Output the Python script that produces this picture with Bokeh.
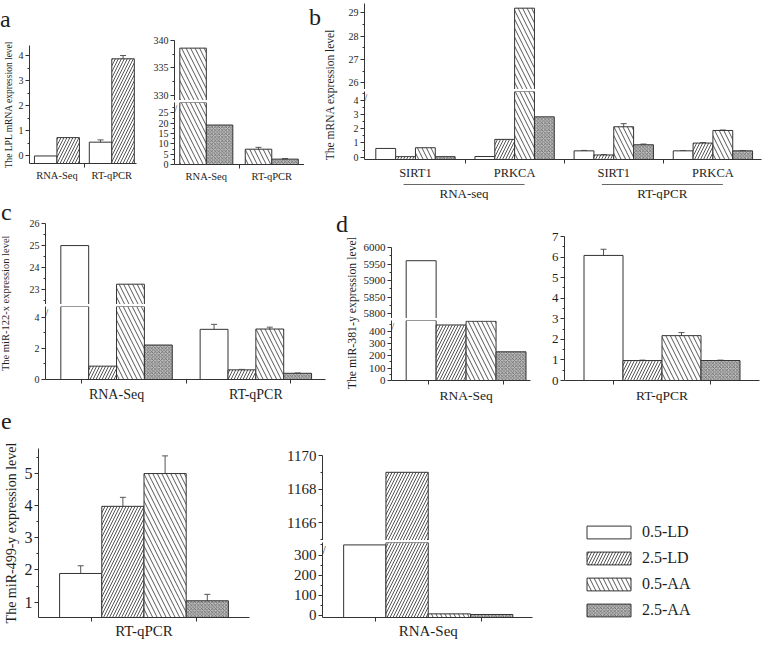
import numpy as np
from bokeh.plotting import figure
from bokeh.layouts import row, column
from bokeh.models import (ColumnDataSource, Range1d, FixedTicker, Whisker, TeeHead,
                          Legend, LegendItem, Label, Div)
from bokeh.embed import file_html
from bokeh.resources import INLINE

FONT = "Liberation Serif"
INK = "#1e1e1e"
AXC = "#333333"
ERRC = "#555555"

SERIES = ["0.5-LD", "2.5-LD", "0.5-AA", "2.5-AA"]

# ---------------- data ----------------
# panel a
a_groups = ["RNA-Seq", "RT-qPCR"]
a_ld05 = [0.0, 0.55]
a_ld05_err = [0.0, 0.09]
a_ld25 = [0.73, 3.87]
a_ld25_err = [0.0, 0.13]
a_aa05 = [338.6, 7.4]
a_aa05_err = [0.0, 0.9]
a_aa25 = [19.1, 2.6]
a_aa25_err = [0.0, 0.25]

# panel b
b_genes = ["SIRT1", "PRKCA", "SIRT1", "PRKCA"]
b_methods = ["RNA-seq", "RT-qPCR"]
b_ld05 = [0.61, 0.04, 0.44, 0.44]
b_ld05_err = [0.0, 0.0, 0.03, 0.02]
b_ld25 = [0.03, 1.25, 0.15, 0.99]
b_ld25_err = [0.0, 0.0, 0.02, 0.03]
b_aa05 = [0.66, 29.2, 2.14, 1.88]
b_aa05_err = [0.0, 0.0, 0.22, 0.03]
b_aa25 = [0.03, 2.84, 0.87, 0.44]
b_aa25_err = [0.0, 0.0, 0.05, 0.02]

# panel c
c_groups = ["RNA-Seq", "RT-qPCR"]
c_ld05 = [25.0, 3.23]
c_ld05_err = [0.0, 0.32]
c_ld25 = [0.86, 0.62]
c_ld25_err = [0.0, 0.03]
c_aa05 = [23.25, 3.25]
c_aa05_err = [0.0, 0.12]
c_aa25 = [2.22, 0.40]
c_aa25_err = [0.0, 0.02]

# panel d
d_left_groups = ["RNA-Seq"]
d_left_vals = [[5960.0], [449.0], [479.0], [232.0]]
d_right_groups = ["RT-qPCR"]
d_right_vals = [[6.08], [0.97], [2.18], [0.97]]
d_right_err = [[0.30], [0.02], [0.15], [0.02]]

# panel e
e_left_groups = ["RT-qPCR"]
e_left_vals = [[1.89], [3.98], [5.0], [1.04]]
e_left_err = [[0.24], [0.28], [0.55], [0.20]]
e_right_groups = ["RNA-Seq"]
e_right_vals = [[350.0], [1169.0], [8.0], [5.0]]

# ---------------- styles ----------------
STYLE = {
    "0.5-LD": dict(fill_color="white"),
    "2.5-LD": dict(fill_color="white", hatch_pattern="right_diagonal_line",
                   hatch_scale=6, hatch_weight=1.0, hatch_color="#555555"),
    "0.5-AA": dict(fill_color="white", hatch_pattern="left_diagonal_line",
                   hatch_scale=9, hatch_weight=0.9, hatch_color="#444444"),
    "2.5-AA": dict(fill_color="#bdbdbd", hatch_pattern="diagonal_cross",
                   hatch_scale=3.5, hatch_weight=0.7, hatch_color="#555555"),
}


def base_fig(w, h, xr, yr, ml, mr, mt, mb, xaxis=True, yaxis=True):
    p = figure(width=w, height=h, x_range=xr, y_range=yr, output_backend="svg",
               toolbar_location=None,
               x_axis_location="below" if xaxis else None,
               y_axis_location="left" if yaxis else None,
               min_border_left=ml, min_border_right=mr,
               min_border_top=mt, min_border_bottom=mb, title=None)
    p.grid.visible = False
    p.outline_line_color = None
    p.background_fill_color = "white"
    p.border_fill_color = "white"
    for ax in list(p.xaxis) + list(p.yaxis):
        ax.axis_line_color = AXC
        ax.major_tick_line_color = AXC
        ax.minor_tick_line_color = AXC
        ax.major_tick_in = 0
        ax.major_tick_out = 4
        ax.minor_tick_in = 0
        ax.minor_tick_out = 2
        ax.major_label_text_font = FONT
        ax.major_label_text_color = INK
        ax.major_label_standoff = 2
        ax.axis_label_text_font = FONT
        ax.axis_label_text_font_style = "normal"
        ax.axis_label_text_color = INK
        ax.axis_label_standoff = 3
    return p


def yticks(p, major, minor, size):
    ax = p.yaxis[0]
    ax.ticker = FixedTicker(ticks=[float(v) for v in major], minor_ticks=[float(v) for v in minor])
    ax.major_label_text_font_size = size


def xcats(p, labels, minor, size, standoff=2):
    ax = p.xaxis[0]
    ticks = list(range(1, len(labels) + 1))
    ax.ticker = FixedTicker(ticks=ticks, minor_ticks=[float(v) for v in minor])
    ax.major_label_overrides = {t: lab for t, lab in zip(ticks, labels)}
    ax.major_tick_out = 0
    ax.minor_tick_out = 4
    ax.major_label_text_font_size = size
    ax.major_label_standoff = standoff


def bars(p, names, vals_list, errs_list, bar_w, base, whiskers=True):
    n = len(names)
    for k, name in enumerate(names):
        vals = vals_list[k]
        xs = [i + 1 + (k - (n - 1) / 2) * bar_w for i in range(len(vals))]
        src = ColumnDataSource(dict(x=xs, top=vals))
        p.vbar(x="x", top="top", bottom=base, width=bar_w, source=src,
               line_color=AXC, line_width=1, **STYLE[name])
        if whiskers and errs_list is not None:
            errs = errs_list[k]
            ex = [x for x, e in zip(xs, errs) if e > 0]
            if ex:
                lo = [v - e for v, e in zip(vals, errs) if e > 0]
                hi = [v + e for v, e in zip(vals, errs) if e > 0]
                esrc = ColumnDataSource(dict(x=ex, lo=lo, hi=hi))
                p.add_layout(Whisker(source=esrc, base="x", upper="hi", lower="lo",
                                     line_color=ERRC, line_width=1,
                                     upper_head=TeeHead(size=6, line_color=ERRC, line_width=1),
                                     lower_head=TeeHead(size=6, line_color=ERRC, line_width=1)))


def break_mark(p, size="10px"):
    p.add_layout(Label(x=p.x_range.start, y=p.y_range.end, text="//", text_font=FONT,
                       text_font_size=size, text_align="center", text_baseline="top",
                       text_color=AXC))


def label_div(w, h, letter, lx, ltop, ylabel=None, cx=0, cy=0, ysize=11, span=200, lsize=24):
    """Panel letter, optionally with a rotated y-axis title spanning a broken axis."""
    lh = round(ysize * 1.2, 1)
    parts = [
        f'<div style="position:relative;width:{w}px;height:{h}px;'
        f'font-family:\'{FONT}\',serif;color:{INK};">',
        f'<div style="position:absolute;left:{lx}px;top:{ltop}px;font-size:{lsize}px;'
        f'line-height:{lsize}px;white-space:nowrap;">{letter}</div>',
    ]
    if ylabel:
        parts.append(
            f'<div style="position:absolute;left:{cx - span / 2}px;top:{cy - lh / 2}px;'
            f'width:{span}px;height:{lh}px;line-height:{lh}px;text-align:center;'
            f'font-size:{ysize}px;white-space:nowrap;transform:rotate(-90deg);'
            f'transform-origin:50% 50%;">{ylabel}</div>')
    parts.append('</div>')
    return Div(text="".join(parts), width=w, height=h, margin=(0, 0, 0, 0))


# ================= ROW 1 (0-200) =================
a_lab = label_div(150, 32, "a", 0, 7)
a_l_y = Range1d(-0.3, 4.4)
a_left = base_fig(150, 168, Range1d(0.5, 2.45), a_l_y, 22, 14, 13, 37)
bars(a_left, ["0.5-LD", "2.5-LD"], [a_ld05, a_ld25], [a_ld05_err, a_ld25_err], 0.41, a_l_y.start)
yticks(a_left, range(0, 5), np.arange(-0.5, 4.5, 0.5), "10px")
xcats(a_left, a_groups, [1.5], "10.5px")
a_left.yaxis[0].axis_label = "The LPL mRNA expression level"
a_left.yaxis[0].axis_label_text_font_size = "9.5px"
a_left.yaxis[0].axis_label_standoff = 2

a_r_x = Range1d(0.514, 2.5)
a_r_up_y = Range1d(329, 340)
a_r_lo_y = Range1d(0, 30)
a_r_up = base_fig(154, 100, a_r_x, a_r_up_y, 22, 0, 40, 0, xaxis=False)
a_r_lo = base_fig(154, 100, a_r_x, a_r_lo_y, 22, 0, 2, 36)
for p_ in (a_r_up, a_r_lo):
    bars(p_, ["0.5-AA", "2.5-AA"], [a_aa05, a_aa25], [a_aa05_err, a_aa25_err], 0.405,
         a_r_lo_y.start, whiskers=(p_ is a_r_lo))
yticks(a_r_up, [330, 335, 340], [332.5, 337.5], "10px")
yticks(a_r_lo, range(0, 30, 5), np.arange(2.5, 30, 5), "10px")
xcats(a_r_lo, a_groups, [1.5], "10.5px")
break_mark(a_r_lo)

b_lab = label_div(36, 200, "b", 5, 5, "The mRNA expression level", 27, 95, 11.5)

b_x = Range1d(0.486, 4.49)
b_up_y = Range1d(25.72, 29.4)
b_lo_y = Range1d(-0.17, 4.63)
b_up = base_fig(422, 89, b_x, b_up_y, 24, 1, 3, 0, xaxis=False)
b_lo = base_fig(422, 93, b_x, b_lo_y, 24, 1, 2, 15)
for p_ in (b_up, b_lo):
    bars(p_, SERIES, [b_ld05, b_ld25, b_aa05, b_aa25],
         [b_ld05_err, b_ld25_err, b_aa05_err, b_aa25_err], 0.2, b_lo_y.start,
         whiskers=(p_ is b_lo))
yticks(b_up, [26, 27, 28, 29], [26.5, 27.5, 28.5], "10px")
yticks(b_lo, range(0, 5), np.arange(0.5, 4.6, 0.5), "10px")
xcats(b_lo, b_genes, [1.5, 2.5, 3.5], "12.5px", standoff=2)
break_mark(b_lo)

b_grp = figure(width=422, height=18, x_range=b_x, y_range=Range1d(0, 18), output_backend="svg",
               toolbar_location=None, x_axis_location=None, y_axis_location=None,
               min_border_left=24, min_border_right=1, min_border_top=0, min_border_bottom=0,
               title=None)
b_grp.grid.visible = False
b_grp.outline_line_color = None
n_per = len(b_genes) // len(b_methods)
g_lo = [1 + i * n_per - 0.12 for i in range(len(b_methods))]
g_hi = [n_per + i * n_per + 0.1 for i in range(len(b_methods))]
b_grp.segment(x0=g_lo, x1=g_hi, y0=[16, 16], y1=[16, 16], line_color="#666666", line_width=1)
b_grp.text(x=[(a + b) / 2 for a, b in zip(g_lo, g_hi)], y=[7, 7], text=b_methods,
           text_align="center", text_baseline="middle", text_font={"value": FONT},
           text_font_size="13px", text_color=INK)

row1 = row(column(a_lab, a_left), column(a_r_up, a_r_lo), b_lab, column(b_up, b_lo, b_grp))

# ================= ROW 2 (200-405) =================
c_lab = label_div(20, 205, "c", 1, 0, "The miR-122-x expression level", 6, 103, 10.5, span=190)
c_x = Range1d(0.49, 2.5)
c_up_y = Range1d(22.33, 26)
c_lo_y = Range1d(0, 4.7)
c_up = base_fig(312, 104, c_x, c_up_y, 25, 7, 23, 0, xaxis=False)
c_lo = base_fig(312, 101, c_x, c_lo_y, 25, 7, 2, 26)
for p_ in (c_up, c_lo):
    bars(p_, SERIES, [c_ld05, c_ld25, c_aa05, c_aa25],
         [c_ld05_err, c_ld25_err, c_aa05_err, c_aa25_err], 0.2, c_lo_y.start,
         whiskers=(p_ is c_lo))
yticks(c_up, [23, 24, 25, 26], [22.5, 23.5, 24.5, 25.5], "10px")
yticks(c_lo, [0, 2, 4], [1, 3], "10px")
xcats(c_lo, c_groups, [0.75, 1.5, 2.25], "14px", standoff=3)
break_mark(c_lo)

d_lab = label_div(28, 205, "d", 4, 12, "The miR-381-y expression level", 20, 113, 11.8, span=190)
d_l_x = Range1d(0.502, 1.43)
d_l_up_y = Range1d(5785, 6000)
d_l_lo_y = Range1d(0, 485)
d_l_up = base_fig(172, 118, d_l_x, d_l_up_y, 31, 2, 47, 0, xaxis=False)
d_l_lo = base_fig(172, 87, d_l_x, d_l_lo_y, 31, 2, 2, 21)
for p_ in (d_l_up, d_l_lo):
    bars(p_, SERIES, d_left_vals, None, 0.2, d_l_lo_y.start, whiskers=False)
yticks(d_l_up, range(5800, 6001, 50), range(5825, 6000, 50), "11px")
yticks(d_l_lo, range(0, 401, 100), range(50, 480, 50), "11px")
xcats(d_l_lo, d_left_groups, [0.75, 1.25], "13.5px", standoff=3)
break_mark(d_l_lo)

d_r_y = Range1d(0, 7)
d_right = base_fig(230, 205, Range1d(0.5, 1.5), d_r_y, 32, 3, 36, 21)
bars(d_right, SERIES, d_right_vals, d_right_err, 0.2, d_r_y.start)
yticks(d_right, range(0, 8), np.arange(0.5, 7, 0.5), "13px")
xcats(d_right, d_right_groups, [0.75, 1.25], "13.5px", standoff=3)

row2 = row(c_lab, column(c_up, c_lo), d_lab, column(d_l_up, d_l_lo), d_right)

# ================= ROW 3 (405-641) =================
e_lab = label_div(252, 30, "e", 1, 4)
e_l_y = Range1d(0.52, 5.78)
e_left = base_fig(252, 206, Range1d(0.5, 1.5), e_l_y, 34, 3, 13, 20)
bars(e_left, SERIES, e_left_vals, e_left_err, 0.2, e_l_y.start)
yticks(e_left, range(1, 6), np.arange(1.5, 5.8, 0.5), "16px")
xcats(e_left, e_left_groups, [0.75, 1.25], "15px", standoff=1)
e_left.yaxis[0].axis_label = "The miR-499-y expression level"
e_left.yaxis[0].axis_label_text_font_size = "14px"
e_left.yaxis[0].axis_label_standoff = 3

e_r_x = Range1d(0.5, 1.493)
e_r_up_y = Range1d(1164.94, 1170)
e_r_lo_y = Range1d(-10, 362)
e_r_up = base_fig(285, 135, e_r_x, e_r_up_y, 70, 5, 50, 0, xaxis=False)
e_r_lo = base_fig(285, 101, e_r_x, e_r_lo_y, 70, 5, 2, 20)
for p_ in (e_r_up, e_r_lo):
    bars(p_, SERIES, e_right_vals, None, 0.2, e_r_lo_y.start, whiskers=False)
yticks(e_r_up, [1166, 1168, 1170], [1165, 1167, 1169], "15px")
yticks(e_r_lo, range(0, 301, 100), range(50, 351, 50), "15px")
xcats(e_r_lo, e_right_groups, [0.75, 1.25], "15px", standoff=1)
break_mark(e_r_lo, "12px")

# legend panel
leg_fig = figure(width=225, height=236, x_range=Range1d(0, 1), y_range=Range1d(0, 1),
                 output_backend="svg", toolbar_location=None, x_axis_location=None,
                 y_axis_location=None, min_border_left=0, min_border_right=0,
                 min_border_top=0, min_border_bottom=0, title=None)
leg_fig.grid.visible = False
leg_fig.outline_line_color = None
items = []
for name in SERIES:
    r = leg_fig.vbar(x=[float("nan")], top=[float("nan")], width=0.1, line_color=AXC,
                     line_width=1, **STYLE[name])
    items.append(LegendItem(label=name, renderers=[r]))
legend = Legend(items=items, location=(44, 22), glyph_width=55, glyph_height=16,
                label_text_font=FONT, label_text_font_size="16px", label_text_color=INK,
                label_standoff=6, label_height=19, spacing=7, padding=0, margin=0,
                border_line_color=None, background_fill_alpha=0)
leg_fig.add_layout(legend)

row3 = row(column(e_lab, e_left), column(e_r_up, e_r_lo), leg_fig)

layout = column(row1, row2, row3)

with open("out.html", "w") as f:
    f.write(file_html(layout, INLINE))
